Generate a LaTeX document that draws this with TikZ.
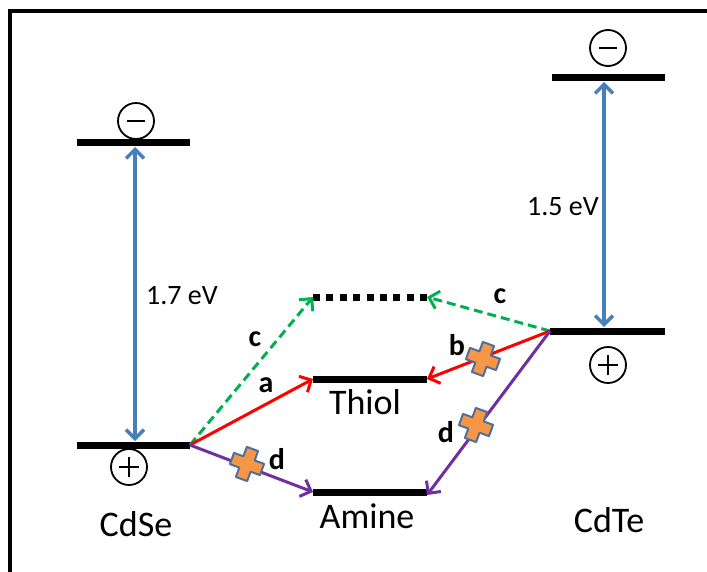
\documentclass[tikz,border=0pt]{standalone}
\usepackage{fontspec}
\setmainfont{Carlito}
\usetikzlibrary{arrows.meta}
\definecolor{gapblue}{HTML}{4A7EBB}
\definecolor{trred}{HTML}{FF0000}
\definecolor{trgreen}{HTML}{00B050}
\definecolor{trpurple}{HTML}{7030A0}
\definecolor{crossfill}{HTML}{F79646}
\definecolor{crossedge}{HTML}{4F6F9A}
\tikzset{
  level/.style={line width=7pt},
  dotlevel/.style={line width=7pt, dash pattern=on 7pt off 6.4pt},
  gaparrow/.style={gapblue, line width=3.5pt, {Straight Barb[length=9pt,width=18pt,line width=3.5pt]}-{Straight Barb[length=9pt,width=18pt,line width=3.5pt]}},
  trarrow/.style={line width=3pt, -{Straight Barb[length=9pt,width=18pt,line width=3pt]}},
  biglabel/.style={font=\fontsize{36}{40}\selectfont, inner sep=0pt},
  evlabel/.style={font=\fontsize{28}{32}\selectfont, inner sep=0pt},
  letter/.style={font=\fontsize{30}{34}\selectfont\bfseries, inner sep=0pt},
  charge/.style={circle, draw, line width=1.8pt, minimum size=36pt, inner sep=0pt},
  crossmark/.pic={
    \path[fill=crossfill, draw=crossedge, line width=2pt, line join=round, rotate=-20]
      (-6,-16) -- (6,-16) -- (6,-6) -- (16,-6) -- (16,6) -- (6,6)
      -- (6,16) -- (-6,16) -- (-6,6) -- (-16,6) -- (-16,-6) -- (-6,-6) -- cycle;
  }
}
\begin{document}
\begin{tikzpicture}[x=1pt,y=-1pt]
\useasboundingbox (0,0) rectangle (707,572);
% frame
\draw[line width=4pt] (10,572) -- (10,11.5) -- (707,11.5);

% CdSe levels
\coordinate (seCBl) at (77,143); \coordinate (seCBr) at (190,143);
\coordinate (seVBl) at (77,445); \coordinate (seVBr) at (190,445);
% CdTe levels
\coordinate (teCBl) at (552,78); \coordinate (teCBr) at (665,78);
\coordinate (teVBl) at (550,331); \coordinate (teVBr) at (665,331);
% middle levels
\coordinate (dotL) at (313,297); \coordinate (dotR) at (427,297);
\coordinate (thL) at (313,379); \coordinate (thR) at (427,379);
\coordinate (amL) at (313,492); \coordinate (amR) at (427,492);

\draw[level] (seCBl) -- (seCBr);
\draw[level] (seVBl) -- (seVBr);
\draw[level] (teCBl) -- (teCBr);
\draw[level] (teVBl) -- (teVBr);
\draw[dotlevel] (dotL) -- (dotR);
\draw[level] (thL) -- (thR);
\draw[level] (amL) -- (amR);

% charges
\node[charge] (seMinus) at (136,121) {};
\draw[line width=1.8pt] ([xshift=-9pt]seMinus.center) -- ([xshift=9pt]seMinus.center);
\node[charge] (sePlus) at (129,467) {};
\draw[line width=1.8pt] ([xshift=-10pt]sePlus.center) -- ([xshift=10pt]sePlus.center);
\draw[line width=1.8pt] ([yshift=-10pt]sePlus.center) -- ([yshift=10pt]sePlus.center);
\node[charge] (teMinus) at (608,48) {};
\draw[line width=1.8pt] ([xshift=-9pt]teMinus.center) -- ([xshift=9pt]teMinus.center);
\node[charge] (tePlus) at (608,365) {};
\draw[line width=1.8pt] ([xshift=-10pt]tePlus.center) -- ([xshift=10pt]tePlus.center);
\draw[line width=1.8pt] ([yshift=-10pt]tePlus.center) -- ([yshift=10pt]tePlus.center);

% band gap arrows
\coordinate (seGapT) at (135,147); \coordinate (seGapB) at (135,441);
\coordinate (teGapT) at (604,82); \coordinate (teGapB) at (604,327);
\draw[gaparrow] (seGapT) -- (seGapB);
\draw[gaparrow] (teGapT) -- (teGapB);
\node[evlabel] (seGap) at (182,296) {1.7 eV};
\node[evlabel] (teGap) at (563,207) {1.5 eV};

% transfer arrows from CdSe
\draw[trarrow, trgreen, dash pattern=on 9pt off 5pt] (seVBr) -- (dotL);
\draw[trarrow, trred] (seVBr) -- (thL);
\draw[trarrow, trpurple] (seVBr) -- (amL);
% transfer arrows from CdTe
\draw[trarrow, trgreen, dash pattern=on 9pt off 5pt] (teVBl) -- (dotR);
\draw[trarrow, trred] (teVBl) -- (thR);
\draw[trarrow, trpurple] (teVBl) -- ([yshift=-3pt]amR);

% crosses
\pic at (247,464) {crossmark};
\pic at (483,359) {crossmark};
\pic at (476,425) {crossmark};

% letters
\node[letter] (lc1) at (255,339) {c};
\node[letter] (la) at (266,385) {a};
\node[letter] (ld1) at (277,459) {d};
\node[letter] (lc2) at (500,296) {c};
\node[letter] (lb) at (457,345) {b};
\node[letter] (ld2) at (446,432) {d};

% labels
\node[biglabel] (thiol) at (365,402) {Thiol};
\node[biglabel] (amine) at (367,516) {Amine};
\node[biglabel] (cdse) at (136,524) {CdSe};
\node[biglabel] (cdte) at (609,520) {CdTe};
\end{tikzpicture}
\end{document}
